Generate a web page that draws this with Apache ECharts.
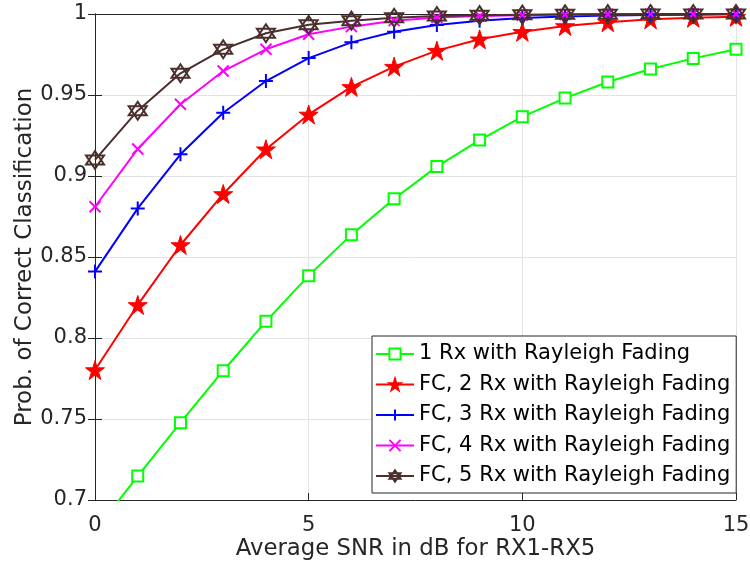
<!DOCTYPE html>
<html>
<head>
<meta charset="utf-8">
<script src="https://cdn.jsdelivr.net/npm/echarts@6/dist/echarts.min.js"></script>
<style>html,body{margin:0;padding:0;background:#fff;}#c{width:750px;height:565px;}</style>
</head>
<body>
<div id="c"></div>
<script>
const snr = [0,1,2,3,4,5,6,7,8,9,10,11,12,13,14,15];
const rx1 = [0.681,0.7148,0.7477,0.7798,0.8103,0.8385,0.8638,0.886,0.9058,0.9222,0.9366,0.9481,0.958,0.966,0.9726,0.9782];
const rx2 = [0.7802,0.8204,0.8574,0.8889,0.9165,0.938,0.955,0.9675,0.9774,0.9844,0.989,0.9926,0.9949,0.9967,0.9977,0.9983];
const rx3 = [0.841,0.88,0.9134,0.939,0.9586,0.9728,0.9825,0.989,0.9932,0.9959,0.9975,0.9985,0.999,0.9994,0.9996,0.9998];
const rx4 = [0.881,0.9167,0.9443,0.9648,0.9782,0.9875,0.9922,0.9959,0.9978,0.9988,0.9993,0.9996,0.9998,0.9999,1.0,1.0];
const rx5 = [0.9099,0.9403,0.9634,0.9782,0.9881,0.9934,0.9959,0.9977,0.9988,0.9993,0.9996,0.9998,0.9999,1.0,1.0,1.0];
const seriesNames = ['1 Rx with Rayleigh Fading','FC, 2 Rx with Rayleigh Fading','FC, 3 Rx with Rayleigh Fading','FC, 4 Rx with Rayleigh Fading','FC, 5 Rx with Rayleigh Fading'];
const xTicks = [0,5,10,15];
const yTicks = [0.7,0.75,0.8,0.85,0.9,0.95,1];
const xTitle = 'Average SNR in dB for RX1-RX5';
const yTitle = 'Prob. of Correct Classification';

const FONT = 'DejaVu Sans';
const AX = '#262626';
const star5 = 'path://M0,-1 L0.2245,-0.309 L0.951,-0.309 L0.3633,0.118 L0.588,0.809 L0,0.382 L-0.588,0.809 L-0.3633,0.118 L-0.951,-0.309 L-0.2245,-0.309 Z';
const plus = 'path://M0,-1 L0,1 M-1,0 L1,0';
const cross = 'path://M-1,-1 L1,1 M-1,1 L1,-1';
const hexa = 'path://M0,-1 L0.866,0.5 L-0.866,0.5 Z M0,1 L0.866,-0.5 L-0.866,-0.5 Z';

function mk(name, vals, color, symbol, size, fill, bw) {
  return {
    name: name, type: 'line',
    data: snr.map((x,i)=>[x, vals[i]]),
    symbol: symbol, symbolSize: size,
    lineStyle: {color: color, width: 2},
    itemStyle: {color: fill, borderColor: color, borderWidth: bw},
    emphasis: {disabled: true},
    clip: true, animation: false
  };
}
const series = [
  mk(seriesNames[0], rx1, '#00ff00', 'rect', 11, '#ffffff', 2),
  mk(seriesNames[1], rx2, '#ff0000', star5, 19, '#ff0000', 1),
  mk(seriesNames[2], rx3, '#0000ff', plus, 14, 'none', 2),
  mk(seriesNames[3], rx4, '#ff00ff', cross, 11, 'none', 2),
  mk(seriesNames[4], rx5, '#4a2f2c', hexa, 18, 'none', 2)
];

const chart = echarts.init(document.getElementById('c'));
const yMin = yTicks[0], yMax = yTicks[yTicks.length-1];
const xMin = xTicks[0], xMax = xTicks[xTicks.length-1];
const common = {axisLine:{show:true,lineStyle:{color:AX,width:1}}, axisTick:{show:true,inside:true,length:7,lineStyle:{color:AX}}};
chart.setOption({
  animation: false,
  backgroundColor: '#ffffff',
  textStyle: {fontFamily: FONT},
  grid: {left: 95, right: 14, top: 14, bottom: 65, containLabel: false, outerBoundsMode: 'none'},
  xAxis: [
    Object.assign({type:'value', min:xMin, max:xMax, interval:5, position:'bottom',
      name:xTitle, nameLocation:'middle', nameGap:38, nameMoveOverlap:false,
      nameTextStyle:{fontSize:22.8, color:AX, fontFamily:FONT},
      axisLabel:{fontSize:21, color:AX, margin:15, fontFamily:FONT},
      splitLine:{show:true, lineStyle:{color:'#e3e3e3', width:1}}}, common),
    Object.assign({type:'value', min:xMin, max:xMax, interval:5, position:'top',
      axisLabel:{show:false}, splitLine:{show:false}}, common)
  ],
  yAxis: [
    Object.assign({type:'value', min:yMin, max:yMax, interval:0.05, position:'left',
      name:yTitle, nameLocation:'middle', nameGap:58, nameMoveOverlap:false,
      nameTextStyle:{fontSize:23, color:AX, fontFamily:FONT},
      axisLabel:{fontSize:21, color:AX, margin:8, fontFamily:FONT,
        formatter: v => String(+v.toFixed(2))},
      splitLine:{show:true, lineStyle:{color:'#e3e3e3', width:1}}}, common),
    Object.assign({type:'value', min:yMin, max:yMax, interval:0.05, position:'right',
      axisLabel:{show:false}, splitLine:{show:false}}, common)
  ],
  legend: {
    orient:'vertical', left:372, top:336,
    padding:[7.5,6,6.5,3], itemGap:9.5, itemWidth:38, itemHeight:14,
    backgroundColor:'#ffffff', borderColor:AX, borderWidth:1, borderRadius:0,
    textStyle:{fontSize:21, color:'#000', fontFamily:FONT, lineHeight:21},
    data: seriesNames
  },
  series: series
});
</script>
</body>
</html>
